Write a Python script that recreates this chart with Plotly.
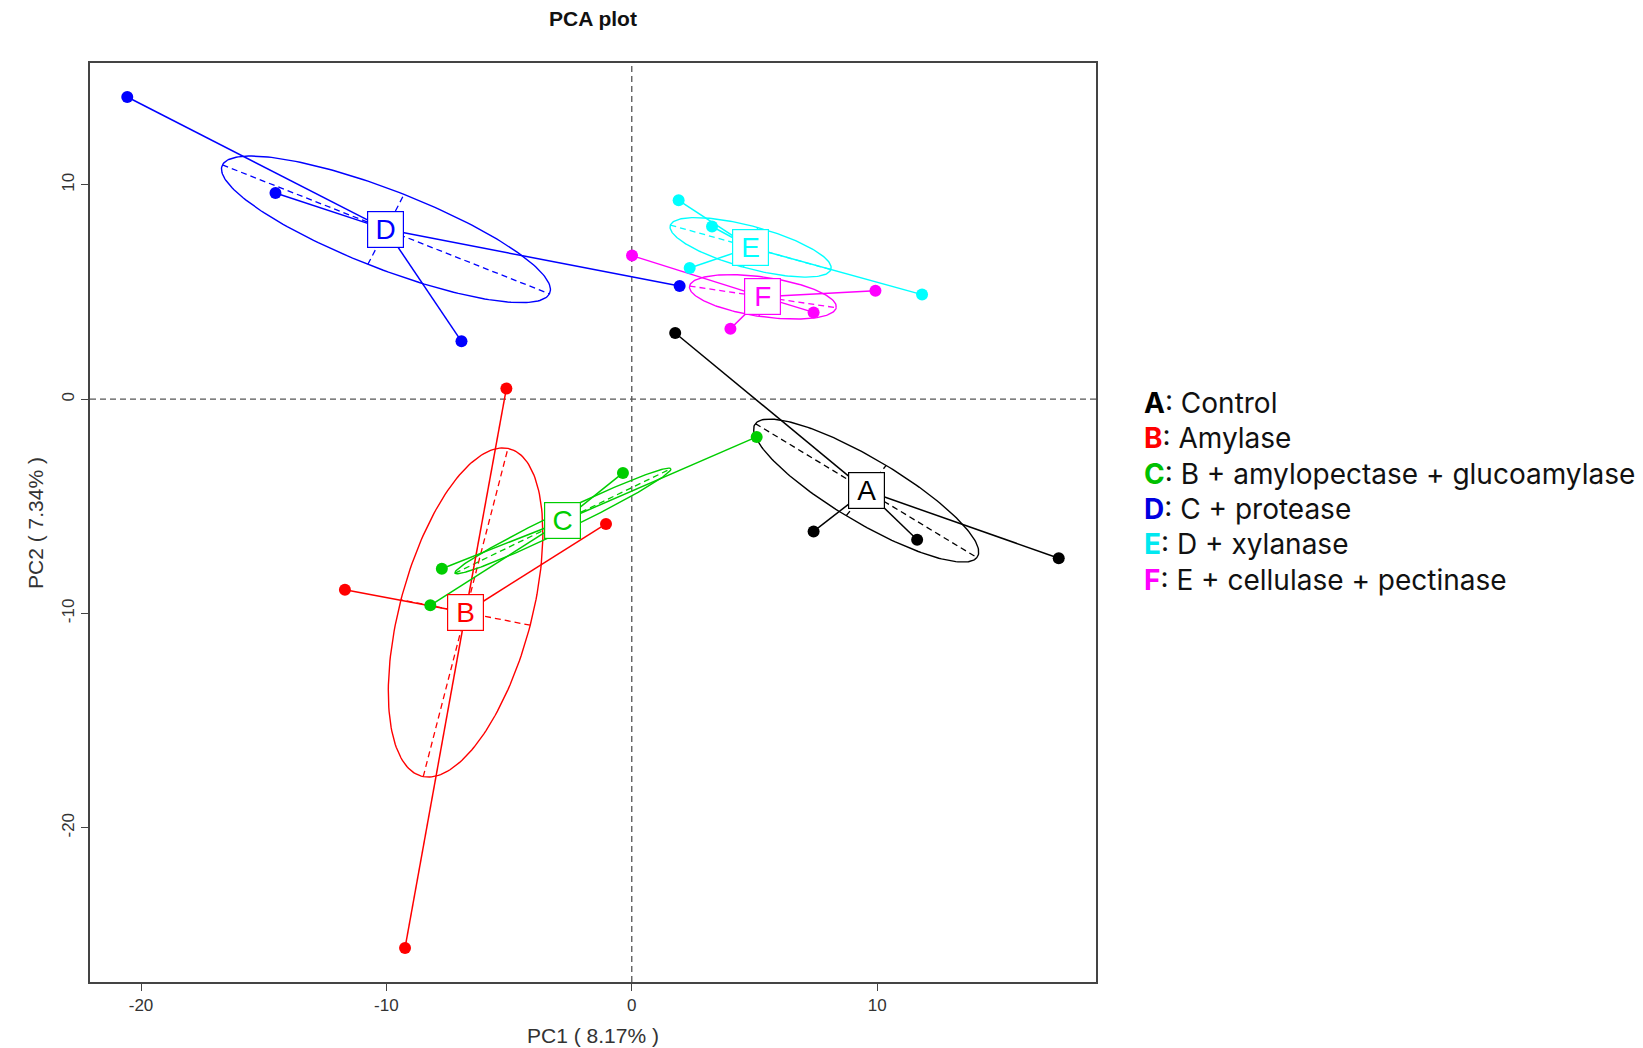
import numpy as np
import plotly.graph_objects as go

# ---------------- data ----------------
groups = ["A", "B", "C", "D", "E", "F"]
colors = ["#000000", "#ff0000", "#00cd00", "#0000ff", "#00ffff", "#ff00ff"]
legend_colors = ["#000000", "#ff0000", "#00c000", "#0000e0", "#00e8f0", "#ff00ff"]
legend_desc = ["Control", "Amylase", "B + amylopectase + glucoamylase",
               "C + protease", "D + xylanase", "E + cellulase + pectinase"]

pc1_A = [1.77, 7.41, 11.63, 17.40]
pc2_A = [3.09, -6.17, -6.56, -7.42]
pc1_B = [-5.11, -11.69, -1.05, -9.24]
pc2_B = [0.50, -8.89, -5.82, -25.61]
pc1_C = [-0.36, 5.09, -7.74, -8.21]
pc2_C = [-3.44, -1.76, -7.91, -9.62]
pc1_D = [-20.56, -14.52, -6.94, 1.95]
pc2_D = [14.10, 9.62, 2.70, 5.28]
pc1_E = [1.91, 3.27, 2.36, 11.83]
pc2_E = [9.28, 8.06, 6.12, 4.88]
pc1_F = [0.01, 9.93, 7.41, 4.02]
pc2_F = [6.70, 5.06, 4.05, 3.29]

# ellipse parameters (data units, degrees)
ell_major = [5.49, 7.85, 5.03, 7.31, 3.43, 3.03]
ell_minor = [1.43, 2.70, 0.42, 1.79, 0.97, 0.92]
ell_angle = [-34.7, 77.3, 29.0, -24.3, -17.6, -9.6]

x_ticks = [-20, -10, 0, 10]
x_ticklabels = ["-20", "-10", "0", "10"]
y_ticks = [-20, -10, 0, 10]
y_ticklabels = ["-20", "-10", "0", "10"]
title_text = "PCA plot"
x_title = "PC1 ( 8.17% )"
y_title = "PC2 ( 7.34% )"

pc1 = [pc1_A, pc1_B, pc1_C, pc1_D, pc1_E, pc1_F]
pc2 = [pc2_A, pc2_B, pc2_C, pc2_D, pc2_E, pc2_F]

# ---------------- figure ----------------
fig = go.Figure()
AX_FONT = "Liberation Sans, Arial, sans-serif"

centers = []
for g in range(len(groups)):
    xs = np.array(pc1[g]); ys = np.array(pc2[g])
    cx, cy = xs.mean(), ys.mean()
    centers.append((cx, cy))
    th = np.deg2rad(ell_angle[g]); a = ell_major[g]; b = ell_minor[g]
    t = np.linspace(0, 2 * np.pi, 201)
    ex = cx + a * np.cos(t) * np.cos(th) - b * np.sin(t) * np.sin(th)
    ey = cy + a * np.cos(t) * np.sin(th) + b * np.sin(t) * np.cos(th)
    fig.add_trace(go.Scatter(x=ex, y=ey, mode="lines",
                             line=dict(color=colors[g], width=1.4),
                             hoverinfo="skip"))
    # principal axes (dashed)
    ax_x = [cx - a * np.cos(th), cx + a * np.cos(th), None,
            cx + b * np.sin(th), cx - b * np.sin(th)]
    ax_y = [cy - a * np.sin(th), cy + a * np.sin(th), None,
            cy - b * np.cos(th), cy + b * np.cos(th)]
    fig.add_trace(go.Scatter(x=ax_x, y=ax_y, mode="lines",
                             line=dict(color=colors[g], width=1.3, dash="6px,4px"),
                             hoverinfo="skip"))

for g in range(len(groups)):
    cx, cy = centers[g]
    sx, sy = [], []
    for px, py in zip(pc1[g], pc2[g]):
        sx += [cx, px, None]
        sy += [cy, py, None]
    fig.add_trace(go.Scatter(x=sx, y=sy, mode="lines",
                             line=dict(color=colors[g], width=1.5),
                             hoverinfo="skip"))

for g in range(len(groups)):
    fig.add_trace(go.Scatter(x=pc1[g], y=pc2[g], mode="markers",
                             marker=dict(color=colors[g], size=12, line=dict(width=0)),
                             name=groups[g]))

for g in range(len(groups)):
    cx, cy = centers[g]
    fig.add_annotation(x=cx, y=cy, xref="x", yref="y", text=groups[g],
                       showarrow=False, font=dict(family="Liberation Sans, Arial", size=28, color=colors[g]),
                       bgcolor="white", bordercolor=colors[g], borderwidth=1.2,
                       borderpad=1, width=33, height=33, align="center", valign="middle")

# axis ranges like R (4% extension)
allx = np.concatenate([np.array(v) for v in pc1]); ally = np.concatenate([np.array(v) for v in pc2])
dx = (allx.max() - allx.min()) * 0.04; dy = (ally.max() - ally.min()) * 0.04
xr = [allx.min() - dx, allx.max() + dx]
yr = [ally.min() - dy, ally.max() + dy]

# zero reference lines
fig.add_shape(type="line", xref="x", yref="y domain", x0=0, x1=0, y0=0, y1=1,
              line=dict(color="#555555", width=1.3, dash="6px,4px"), layer="below")
fig.add_shape(type="line", xref="x domain", yref="y", x0=0, x1=1, y0=0, y1=0,
              line=dict(color="#555555", width=1.3, dash="6px,4px"), layer="below")

axis_common = dict(showgrid=False, zeroline=False, showline=True, linecolor="#444444",
                   linewidth=1.5, mirror=True, ticks="outside", ticklen=7,
                   tickcolor="#444444", tickwidth=1.3,
                   tickfont=dict(family=AX_FONT, size=17, color="#333333"))
fig.update_xaxes(range=xr, tickvals=x_ticks, ticktext=x_ticklabels, **axis_common)
fig.update_yaxes(range=yr, tickvals=y_ticks, ticktext=y_ticklabels, tickangle=-90, **axis_common)

L, R, T, B = 90, 547, 63, 66
W, H = 1643, 1048
ph = H - T - B
pw = W - L - R

fig.update_layout(width=W, height=H, margin=dict(l=L, r=R, t=T, b=B),
                  plot_bgcolor="white", paper_bgcolor="white", showlegend=False)

# titles
fig.add_annotation(x=0.5, y=(H - B - 19) / ph, xref="paper", yref="paper", text="<b>" + title_text + "</b>",
                   showarrow=False, font=dict(family=AX_FONT, size=21, color="#111111"),
                   xanchor="center", yanchor="middle")
fig.add_annotation(x=0.5, y=(H - B - 1035) / ph, xref="paper", yref="paper", text=x_title,
                   showarrow=False, font=dict(family=AX_FONT, size=21, color="#333333"),
                   xanchor="center", yanchor="middle")
fig.add_annotation(x=(35 - L) / pw, y=(H - B - 523) / ph, xref="paper", yref="paper", text=y_title,
                   textangle=-90, showarrow=False, font=dict(family=AX_FONT, size=21, color="#333333"),
                   xanchor="center", yanchor="middle")

# legend text on the right
for i, (grp, desc) in enumerate(zip(groups, legend_desc)):
    ypx = 403 + 35.3 * i
    fig.add_annotation(x=(1142 - L) / pw, y=(H - B - ypx) / ph, xref="paper", yref="paper",
                       text=f"<b><span style='color:{legend_colors[i]}'>{grp}</span></b>: {desc}",
                       showarrow=False, xanchor="left", yanchor="middle", align="left",
                       font=dict(family="Inter, Lato, sans-serif", size=28, color="#111111"))

fig.write_html("out.html")
